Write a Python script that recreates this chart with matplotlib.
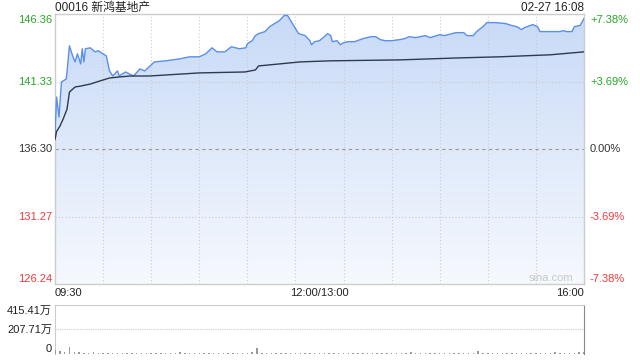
import numpy as np
import matplotlib
matplotlib.use("Agg")
import matplotlib.pyplot as plt
from matplotlib.colors import LinearSegmentedColormap

# 分时数据 (交易分钟, 0 = 09:30, 150 = 12:00/13:00, 330 = 16:00)
minutos = [0, 1, 2.5, 4, 7, 7.5, 9, 11, 12.5, 14, 16, 17, 18, 19, 22, 25, 27, 30, 32, 34,
           36, 39, 40, 44, 49, 53, 56, 62, 69, 78, 84, 90, 94, 98, 101, 106, 110, 115, 119, 120,
           123, 125, 127, 129, 131, 134, 137, 140, 143, 145, 147, 150, 152, 156, 159, 160, 162, 165, 168, 170,
           172, 173, 176, 178, 180, 183, 187, 192, 197, 200, 203, 206, 210, 215, 218, 221, 225, 231, 234, 240,
           243, 250, 255, 257, 261, 263, 267, 269.5, 274.5, 281, 285, 288, 291, 293, 298, 301, 302.5, 307, 312, 315,
           317, 319, 322.5, 324, 327.5, 329, 330]
precio = [137.39, 140.17, 138.67, 141.29, 141.52, 142.04, 143.99, 143.24, 142.79, 143.39, 142.64, 143.77, 142.79, 143.77, 143.84, 143.54, 143.62, 143.39, 143.24, 142.12,
          141.74, 142.12, 141.74, 142.04, 141.74, 142.27, 142.12, 142.79, 142.87, 143.02, 143.17, 143.17, 143.39, 143.84, 143.54, 143.54, 143.92, 143.77, 143.84, 144.14,
          144.37, 144.75, 144.90, 144.97, 145.05, 145.42, 145.65, 145.87, 146.25, 146.25, 145.87, 145.27, 144.90, 144.75, 144.37, 144.07, 144.30, 144.37, 144.67, 144.90,
          144.75, 144.30, 144.37, 144.07, 144.22, 144.30, 144.30, 144.52, 144.67, 144.67, 144.45, 144.37, 144.37, 144.45, 144.52, 144.67, 144.60, 144.75, 144.60, 144.82,
          144.75, 144.97, 144.97, 144.75, 144.75, 145.05, 145.42, 145.72, 145.72, 145.65, 145.50, 145.42, 145.20, 145.35, 145.57, 145.42, 145.05, 145.05, 145.05, 145.05,
          145.12, 145.05, 145.05, 145.42, 145.50, 145.80, 146.02]

minutos_media = [0, 1, 3, 5, 7.5, 9, 12.5, 16, 22, 28, 34, 40.5, 47, 59, 90, 118.5, 125, 127, 140, 153,
                 171.5, 215, 252.5, 277.5, 309, 330]
precio_media = [137.01, 137.61, 137.99, 138.51, 139.27, 140.54, 140.92, 140.99, 141.14, 141.37, 141.59, 141.67, 141.74, 141.74, 141.97, 142.04, 142.19, 142.49, 142.64, 142.79,
                142.87, 142.94, 143.09, 143.17, 143.32, 143.54]

# 成交量 (万), 每 3 分钟一根
volumen = [30, 25, 20, 59, 18, 15, 12, 10, 13, 9, 11, 8, 12, 10, 9, 11, 8, 10, 12, 9,
           11, 10, 8, 12, 9, 10, 13, 8, 11, 10, 9, 12, 10, 8, 11, 9, 12, 10, 9, 11,
           8, 13, 51, 10, 9, 11, 8, 10, 12, 9, 10, 11, 8, 12, 9, 10, 11, 8, 12, 10,
           9, 11, 10, 8, 12, 9, 11, 10, 9, 12, 8, 10, 11, 9, 13, 10, 8, 11, 12, 9,
           10, 11, 8, 12, 9, 10, 11, 9, 25, 10, 12, 8, 11, 9, 10, 12, 9, 11, 10, 8,
           12, 9, 11, 10, 20, 12, 9, 11, 10, 13, 15]

cierre_previo = 136.30
precios_eje = [146.36, 141.33, 136.30, 131.27, 126.24]
pct_eje = ["+7.38%", "+3.69%", "0.00%", "-3.69%", "-7.38%"]
vol_eje = [415.41, 207.71, 0]
vol_etiquetas = ["415.41万", "207.71万", "0"]

fuente = ["Liberation Sans", "Noto Sans CJK SC", "DejaVu Sans"]
plt.rcParams["font.family"] = fuente

verde = "#26a626"
rojo = "#f23a3a"
gris_txt = "#333333"

fig = plt.figure(figsize=(6.4, 3.6), dpi=100)
ax = fig.add_axes([55 / 640, 1 - 284 / 360, 529 / 640, 270 / 360])
axv = fig.add_axes([55 / 640, 1 - 354 / 360, 529 / 640, 49 / 360])

x0, x1 = 0, 330
y0, y1 = precios_eje[-1], precios_eje[0]
ax.set_xlim(x0, x1)
ax.set_ylim(y0, y1)

# relleno degradado bajo la línea
relleno = ax.fill_between(minutos, precio, y0, color="none")
cmap = LinearSegmentedColormap.from_list("azul", ["#f6f9fe", "#c8daf7"])
grad = np.linspace(0, 1, 256).reshape(-1, 1)
img = ax.imshow(grad, extent=[x0, x1, y0, y1], origin="lower", aspect="auto",
                cmap=cmap, zorder=1)
img.set_clip_path(relleno.get_paths()[0], transform=ax.transData)

# rejilla
for t in range(30, 330, 30):
    ax.axvline(t, color="#cccccc", lw=0.8, ls=(0, (1, 2)), zorder=2)
for p in [141.33, 131.27]:
    ax.axhline(p, color="#cccccc", lw=0.8, ls=(0, (1, 2)), zorder=2)
ax.axhline(cierre_previo, color="#999999", lw=0.8, ls=(0, (3, 3)), zorder=2)

ax.plot(minutos, precio, color="#5b8fea", lw=1.0, zorder=4)
ax.plot(minutos_media, precio_media, color="#2e3a50", lw=1.0, zorder=4)

ax.set_xticks([])
ax.set_yticks([])
for lado in ["left", "right", "top", "bottom"]:
    ax.spines[lado].set_color("#cccccc")
    ax.spines[lado].set_linewidth(1)

# etiquetas izquierda / derecha
colores = [verde, verde, gris_txt, rojo, rojo]
desplaz = [-6, 0, 0, 0, 5]
for p, pct, c, d in zip(precios_eje, pct_eje, colores, desplaz):
    ax.annotate(f"{p:.2f}", xy=(0, p), xytext=(-3, d), textcoords="offset pixels",
                ha="right", va="center", fontsize=8, color=c, annotation_clip=False)
    ax.annotate(pct, xy=(1, p), xycoords=("axes fraction", "data"), xytext=(6, d),
                textcoords="offset pixels", ha="left", va="center", fontsize=8,
                color=c, annotation_clip=False)

fig.text(55 / 640, 1 - 8 / 360, "00016 新鸿基地产", ha="left", va="center",
         fontsize=8.5, color="#222222")
fig.text(584 / 640, 1 - 8 / 360, "02-27 16:08", ha="right", va="center",
         fontsize=8.5, color="#222222")
ax.text(0.979, 0.003, "sina.com", transform=ax.transAxes, ha="right", va="bottom",
        fontsize=8, color="#c8c8c8")

# etiquetas de tiempo
ax.text(0, -0.015, "09:30", transform=ax.transAxes, ha="left", va="top", fontsize=8, color="#222222")
ax.text(0.5, -0.015, "12:00/13:00", transform=ax.transAxes, ha="center", va="top", fontsize=8, color="#222222")
ax.text(1, -0.015, "16:00", transform=ax.transAxes, ha="right", va="top", fontsize=8, color="#222222")

# volumen
t_vol = np.arange(len(volumen)) * 3
axv.bar(t_vol, volumen, width=0.9, color="#999999", zorder=3)
axv.set_xlim(x0, x1)
axv.set_ylim(0, vol_eje[0])
axv.axhline(vol_eje[1], color="#cccccc", lw=0.8, ls=(0, (1, 1)))
axv.set_xticks([])
axv.set_yticks([])
axv.spines["top"].set_color("#cccccc")
axv.spines["top"].set_linestyle((0, (1, 1)))
axv.spines["left"].set_color("#cccccc")
axv.spines["right"].set_color("#888888")
axv.spines["bottom"].set_visible(False)
for v, et, d in zip(vol_eje, vol_etiquetas, [-6, 0, 5]):
    axv.annotate(et, xy=(0, v), xytext=(-3, d), textcoords="offset pixels",
                 ha="right", va="center", fontsize=8, color="#222222", annotation_clip=False)

fig.savefig("out.png", dpi=100)
